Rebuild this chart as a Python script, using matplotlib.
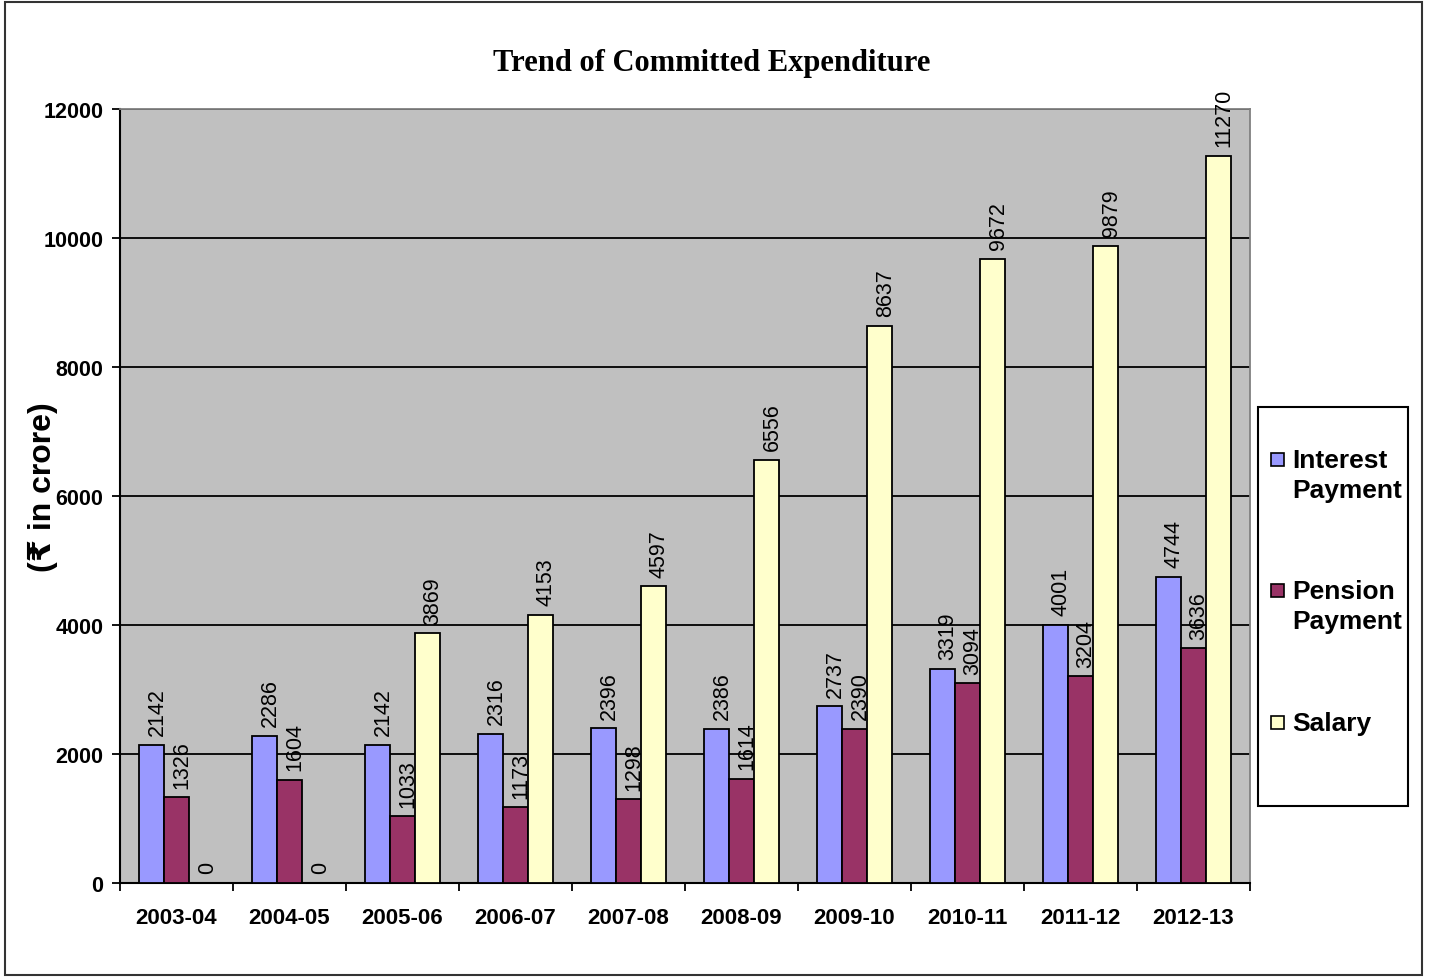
import matplotlib
matplotlib.use("Agg")
import matplotlib.pyplot as plt
import numpy as np
from matplotlib.patches import Rectangle

years = ["2003-04", "2004-05", "2005-06", "2006-07", "2007-08",
         "2008-09", "2009-10", "2010-11", "2011-12", "2012-13"]
interest = [2142, 2286, 2142, 2316, 2396, 2386, 2737, 3319, 4001, 4744]
pension = [1326, 1604, 1033, 1173, 1298, 1614, 2390, 3094, 3204, 3636]
salary = [0, 0, 3869, 4153, 4597, 6556, 8637, 9672, 9879, 11270]
series_names = ["Interest\nPayment", "Pension\nPayment", "Salary"]
colors = ["#9999FF", "#993366", "#FFFFCC"]

plt.rcParams['font.family'] = ['Liberation Sans', 'DejaVu Sans']

fig = plt.figure(figsize=(14.31, 9.78), dpi=100)
ax = fig.add_axes([120/1431, 1-884/978, 1130/1431, 774/978])
ax.set_facecolor("#C0C0C0")

x = np.arange(len(years))
w = 0.222
for i, (vals, col) in enumerate(zip([interest, pension, salary], colors)):
    pos = x + (i - 1) * w
    ax.bar(pos, vals, width=w, color=col, edgecolor="black", linewidth=1.3, zorder=3)
    for px, v in zip(pos, vals):
        ax.annotate(str(v), (px, v), xytext=(4, 7), textcoords="offset points",
                    rotation=90, ha="center", va="bottom", fontsize=15.5, zorder=4)

ax.set_xlim(-0.5, len(years) - 0.5)
ax.set_ylim(0, 12000)
ax.set_yticks(np.arange(0, 12001, 2000))
ax.yaxis.grid(True, color="black", linewidth=1.3, zorder=1)
ax.set_axisbelow(True)

ax.set_xticks(x)
ax.set_xticklabels(years, fontsize=16, fontweight="bold")
ax.tick_params(axis="x", which="major", length=0, pad=17)
ax.set_xticks(np.arange(-0.5, len(years), 1), minor=True)
ax.tick_params(axis="x", which="minor", length=6, width=1.3, direction="out")
ax.tick_params(axis="y", length=6, width=1.3, pad=6)
for lab in ax.get_yticklabels():
    lab.set_fontsize(15.5)
    lab.set_fontweight("bold")

for s in ["left", "bottom"]:
    ax.spines[s].set_color("black")
    ax.spines[s].set_linewidth(1.5)
for s in ["top", "right"]:
    ax.spines[s].set_color("#808080")
    ax.spines[s].set_linewidth(1.3)

ax.set_ylabel("(₹ in crore)", fontsize=23, fontweight="bold")
ax.yaxis.set_label_coords(-0.055, 0.513)

fig.text(712/1431, 1-63/978, "Trend of Committed Expenditure", ha="center", va="center",
         fontsize=22, fontweight="bold", family=["Liberation Serif", "DejaVu Serif"])

# legend box
fig.add_artist(Rectangle((1258/1431, 1-807/978), 150/1431, 399/978, transform=fig.transFigure,
                         facecolor="white", edgecolor="black", linewidth=1.5))
entry_tops = [460, 591, 723]
for name, col, ty in zip(series_names, colors, entry_tops):
    fig.add_artist(Rectangle((1271/1431, 1-(ty+7)/978), 13/1431, 13/978,
                             transform=fig.transFigure, facecolor=col,
                             edgecolor="black", linewidth=1.2))
    fig.text(1292/1431, 1-(ty-11)/978, name, ha="left", va="top", fontsize=19,
             fontweight="bold", linespacing=1.33)

# outer border
fig.add_artist(Rectangle((5/1431, 1-976/978), 1417/1431, 973/978, transform=fig.transFigure,
                         facecolor="none", edgecolor="#333333", linewidth=1.5))

fig.savefig("out.png", dpi=100)
